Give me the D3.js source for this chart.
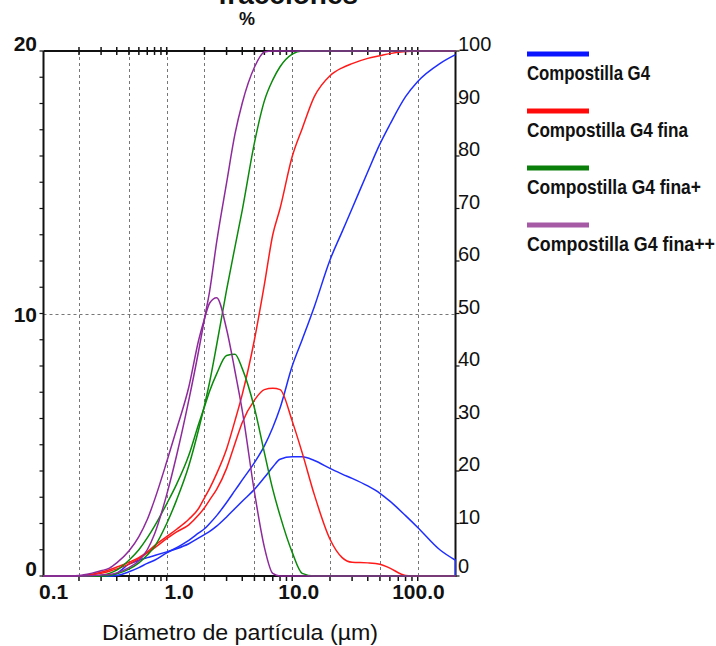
<!DOCTYPE html>
<html>
<head>
<meta charset="utf-8">
<script src="https://cdn.jsdelivr.net/npm/d3@7"></script>
<style>
  html, body { margin: 0; padding: 0; background: #fff; }
  svg { display: block; }
</style>
</head>
<body>
<svg id="chart" width="716" height="646"></svg>
<script>
// ---------- DATA ----------
const diameters = [0.1, 0.15, 0.2, 0.25, 0.3, 0.35, 0.4, 0.5, 0.6, 0.7, 0.8, 1.0, 1.2, 1.5, 1.8, 2.0, 2.2, 2.5, 3.0, 3.5, 4.0, 5.0, 6.0, 7.0, 8.0, 10, 12, 15, 20, 25, 30, 40, 50, 60, 80, 100, 150, 200];

const seriesNames = ["Compostilla G4", "Compostilla G4 fina", "Compostilla G4 fina+", "Compostilla G4 fina++"];
const seriesColors = ["#1f2eff", "#ff1a1a", "#0a8a0a", "#8e2a9c"];
const legendColors = ["#0a14ff", "#ff0a0a", "#0a7f0a", "#a65aa6"];

// frequency (%) – left axis
const g4Freq    = [0, 0, 0, 0, 0, 0, 0.1, 0.45, 0.6, 0.7, 0.78, 0.92, 1.04, 1.23, 1.45, 1.58, 1.7, 1.9, 2.25, 2.57, 2.85, 3.3, 3.75, 4.15, 4.45, 4.54, 4.54, 4.4, 4.1, 3.88, 3.72, 3.43, 3.15, 2.85, 2.3, 1.85, 1.0, 0.6];
const finaFreq  = [0, 0, 0, 0.05, 0.1, 0.18, 0.27, 0.45, 0.66, 0.88, 1.07, 1.42, 1.68, 1.95, 2.33, 2.6, 2.9, 3.3, 4.1, 5.05, 5.85, 6.7, 7.1, 7.15, 7.1, 5.9, 4.7, 3.1, 1.4, 0.7, 0.52, 0.5, 0.45, 0.3, 0.02, 0, 0, 0];
const finaPFreq = [0, 0, 0, 0, 0.02, 0.1, 0.22, 0.6, 1.0, 1.45, 1.9, 2.75, 3.5, 4.6, 5.8, 6.45, 7.05, 7.7, 8.4, 8.45, 7.9, 6.4, 4.7, 3.3, 2.3, 0.9, 0.1, 0, 0, 0, 0, 0, 0, 0, 0, 0, 0, 0];
const finaPPFreq= [0, 0, 0.02, 0.1, 0.2, 0.3, 0.5, 0.95, 1.5, 2.15, 2.9, 4.35, 5.6, 7.2, 9.0, 9.8, 10.4, 10.6, 9.4, 7.8, 6.3, 3.2, 1.1, 0.1, 0, 0, 0, 0, 0, 0, 0, 0, 0, 0, 0, 0, 0, 0];

// cumulative (%) – right axis
const g4Cum     = [0, 0, 0, 0, 0, 0, 0.1, 0.8, 1.6, 2.4, 3.0, 4.4, 5.4, 6.8, 8.2, 9.0, 10.0, 11.5, 14, 16.3, 18.3, 21.6, 24.8, 28.3, 32, 40, 45, 51.3, 60.2, 65.6, 70, 77, 82.3, 86, 91.3, 94.2, 97.6, 99.3];
const finaCum   = [0, 0, 0, 0.3, 0.7, 1.2, 1.7, 2.6, 3.5, 4.6, 5.8, 7.5, 8.9, 10.8, 12.9, 14.9, 16.7, 19.5, 24.2, 29.6, 34.6, 45, 55.5, 65, 70, 79.9, 85.2, 91.3, 95.3, 96.8, 97.6, 98.6, 99.1, 99.5, 99.9, 100, 100, 100];
const finaPCum  = [0, 0, 0, 0, 0, 0.1, 0.4, 1.3, 2.5, 4.0, 5.6, 10, 14.5, 21, 28, 32.5, 37, 44, 54.5, 62.7, 69.7, 82.5, 90.5, 94.5, 97, 99.4, 100, 100, 100, 100, 100, 100, 100, 100, 100, 100, 100, 100];
const finaPPCum = [0, 0, 0, 0.05, 0.2, 0.3, 0.6, 1.6, 2.9, 5.0, 8.0, 15.5, 23, 33.5, 43, 49, 54.3, 63.6, 74.9, 84.2, 90.1, 96.9, 99.8, 100, 100, 100, 100, 100, 100, 100, 100, 100, 100, 100, 100, 100, 100, 100];

const freqSeries = [g4Freq, finaFreq, finaPFreq, finaPPFreq];
const cumSeries  = [g4Cum, finaCum, finaPCum, finaPPCum];

const xTickLabels = ["0.1", "1.0", "10.0", "100.0"];
const xTickValues = [0.1, 1, 10, 100];
const gridX = [0.2, 0.5, 1, 2, 5, 10, 20, 50, 100];
const leftTicks = [0, 10, 20];
const rightTicks = [0, 10, 20, 30, 40, 50, 60, 70, 80, 90, 100];
const legendWidths = [123, 161, 174, 188];

// ---------- LAYOUT ----------
const svg = d3.select("#chart");
const L = 43.5, R = 455.5, T = 51, B = 576;

const x = d3.scaleLog().domain([0.1, 200]).range([41.2, R]);
const yL = d3.scaleLinear().domain([0, 20]).range([B, T]);
const yR = d3.scaleLinear().domain([0, 100]).range([B, T]);

svg.append("defs").append("clipPath").attr("id", "plotclip")
  .append("rect").attr("x", L).attr("y", T - 2).attr("width", R - L + 1).attr("height", B - T + 3);

// grid lines
const grid = svg.append("g").attr("stroke", "#777").attr("stroke-width", 1).attr("stroke-dasharray", "3,3");
grid.selectAll("line.gx").data(gridX).join("line")
  .attr("x1", d => Math.round(x(d)) + 0.5).attr("x2", d => Math.round(x(d)) + 0.5)
  .attr("y1", T).attr("y2", B);
grid.append("line").attr("x1", L).attr("x2", R).attr("y1", Math.round(yL(10)) + 0.5).attr("y2", Math.round(yL(10)) + 0.5);

// minor log ticks (all 1..9 multiples)
const minorTicks = [];
[0.1, 1, 10, 100].forEach(dec => { for (let k = 1; k <= 9; k++) { const v = dec * k; if (v > 0.1 && v < 200) minorTicks.push(v); } });

const axisG = svg.append("g").attr("stroke", "#111");
axisG.append("line").attr("x1", L).attr("x2", R).attr("y1", T).attr("y2", T).attr("stroke-width", 2);
axisG.selectAll("line.tt").data(minorTicks).join("line")
  .attr("x1", d => x(d)).attr("x2", d => x(d)).attr("y1", T - 4).attr("y2", T + 4).attr("stroke-width", 1.5);
axisG.append("line").attr("x1", L).attr("x2", R).attr("y1", B).attr("y2", B).attr("stroke-width", 2);
axisG.selectAll("line.bt").data(minorTicks).join("line")
  .attr("x1", d => x(d)).attr("x2", d => x(d)).attr("y1", B).attr("y2", B + 5).attr("stroke-width", 1.5);
axisG.append("line").attr("x1", L).attr("x2", L).attr("y1", T).attr("y2", B + 1).attr("stroke-width", 2);
axisG.selectAll("line.lt").data(d3.range(0, 21)).join("line")
  .attr("x1", L - 4).attr("x2", L).attr("y1", d => yL(d)).attr("y2", d => yL(d)).attr("stroke-width", 1.2);
axisG.append("line").attr("x1", R).attr("x2", R).attr("y1", T).attr("y2", B + 1).attr("stroke-width", 2);
axisG.selectAll("line.rt").data(rightTicks).join("line")
  .attr("x1", R).attr("x2", R + 4).attr("y1", d => yR(d)).attr("y2", d => yR(d)).attr("stroke-width", 1.2);

// data lines
const plot = svg.append("g").attr("clip-path", "url(#plotclip)").attr("fill", "none").attr("stroke-width", 1.5);
const lineF = d3.line().x(p => x(p[0])).y(p => yL(p[1])).curve(d3.curveMonotoneX);
const lineC = d3.line().x(p => x(p[0])).y(p => yR(p[1])).curve(d3.curveMonotoneX);

seriesNames.forEach((name, i) => {
  const fpts = diameters.map((d, j) => [d, freqSeries[i][j]]);
  const cpts = diameters.map((d, j) => [d, cumSeries[i][j]]);
  plot.append("path").attr("d", lineC(cpts)).attr("stroke", seriesColors[i]);
  let path = lineF(fpts);
  const last = fpts[fpts.length - 1];
  if (last[1] > 0) path += "L" + x(last[0]) + "," + yL(0);
  plot.append("path").attr("d", path).attr("stroke", seriesColors[i]);
});

// ---------- TEXT ----------
const txt = svg.append("g").attr("font-family", "'Liberation Sans', Arial, sans-serif").attr("fill", "#111");

txt.append("text").attr("x", 288).attr("y", 4).attr("text-anchor", "middle")
  .attr("font-size", 28).attr("font-weight", "bold").text("fracciones");
txt.append("text").attr("x", 247).attr("y", 25).attr("text-anchor", "middle")
  .attr("font-size", 18).attr("font-weight", "bold").text("%");

txt.selectAll("text.ly").data(leftTicks).join("text")
  .attr("x", 37).attr("y", d => yL(d) + (d === 10 ? 8 : 0)).attr("text-anchor", "end")
  .attr("font-size", 21).attr("font-weight", "bold").text(d => d);

txt.selectAll("text.ry").data(rightTicks).join("text")
  .attr("x", 458).attr("y", d => yR(d) + (d === 0 ? -3 : 0)).attr("text-anchor", "start")
  .attr("font-size", 20).text(d => d);

txt.selectAll("text.xl").data(xTickValues).join("text")
  .attr("x", d => x(d) + 27).attr("y", 599).attr("text-anchor", "end")
  .attr("font-size", 21).attr("font-weight", "bold").text((d, i) => xTickLabels[i]);

txt.append("text").attr("x", 240).attr("y", 640).attr("text-anchor", "middle")
  .attr("font-size", 22).attr("textLength", 276).attr("lengthAdjust", "spacingAndGlyphs")
  .text("Diámetro de partícula (µm)");

// legend
const leg = svg.append("g");
seriesNames.forEach((name, i) => {
  const yy = 54 + i * 57;
  leg.append("line").attr("x1", 527).attr("x2", 589).attr("y1", yy).attr("y2", yy)
    .attr("stroke", legendColors[i]).attr("stroke-width", 5);
  leg.append("text").attr("x", 527).attr("y", yy + 26)
    .attr("font-family", "'Liberation Sans', Arial, sans-serif")
    .attr("font-size", 21).attr("font-weight", "bold").attr("fill", "#111")
    .attr("textLength", legendWidths[i]).attr("lengthAdjust", "spacingAndGlyphs")
    .text(name);
});
</script>
</body>
</html>
